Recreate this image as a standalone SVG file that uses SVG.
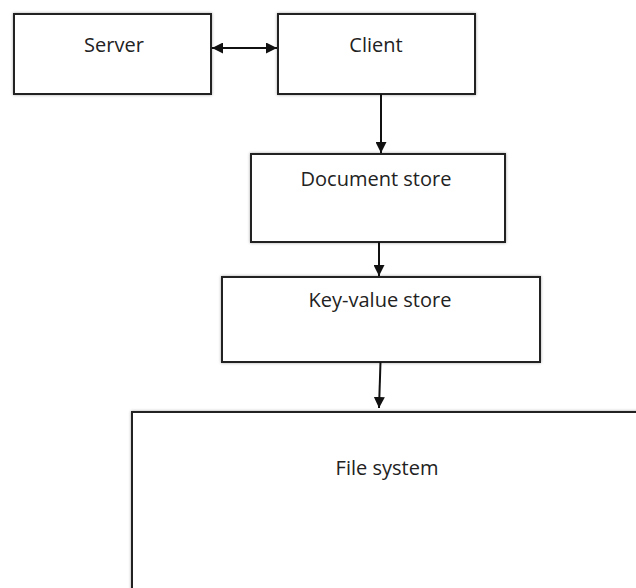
<svg xmlns="http://www.w3.org/2000/svg" width="636" height="588" viewBox="0 0 636 588">
<defs>
<style>
.box{fill:#fff;stroke:#222;stroke-width:2;filter:url(#sh)}
.lbl{font-family:"Open Sans","Liberation Sans",sans-serif;font-size:20px;fill:#222;text-anchor:middle}
.con{stroke:#111;stroke-width:2;fill:none}
</style>
<filter id="sh" x="-10%" y="-10%" width="120%" height="120%">
<feDropShadow dx="0" dy="0" stdDeviation="1.5" flood-color="#000" flood-opacity="0.35"/>
</filter>
<marker id="ah" viewBox="0 0 10 10" refX="10" refY="5" markerWidth="11" markerHeight="11" markerUnits="userSpaceOnUse" orient="auto-start-reverse">
<path d="M0,0 L10,5 L0,10 Z" fill="#111"/>
</marker>
</defs>
<rect width="636" height="588" fill="#fff"/>
<g id="server"><rect class="box" x="14" y="14" width="197" height="80"/><text class="lbl" x="114" y="52">Server</text></g>
<g id="client"><rect class="box" x="278" y="14" width="197" height="80"/><text class="lbl" x="376" y="52">Client</text></g>
<g id="docstore"><rect class="box" x="251" y="154" width="254" height="88"/><text class="lbl" x="376" y="186">Document store</text></g>
<g id="kvstore"><rect class="box" x="222" y="277" width="318" height="85"/><text class="lbl" x="380" y="307">Key-value store</text></g>
<g id="filesystem"><rect class="box" x="132" y="412" width="520" height="200"/><text class="lbl" x="387" y="475">File system</text></g>
<g id="connectors">
<line class="con" x1="212" y1="48" x2="277" y2="48" marker-start="url(#ah)" marker-end="url(#ah)"/>
<line class="con" x1="381" y1="94" x2="381" y2="153" marker-end="url(#ah)"/>
<line class="con" x1="379" y1="242" x2="379" y2="276" marker-end="url(#ah)"/>
<line class="con" x1="380.5" y1="362" x2="379" y2="408" marker-end="url(#ah)"/>
</g>
</svg>
